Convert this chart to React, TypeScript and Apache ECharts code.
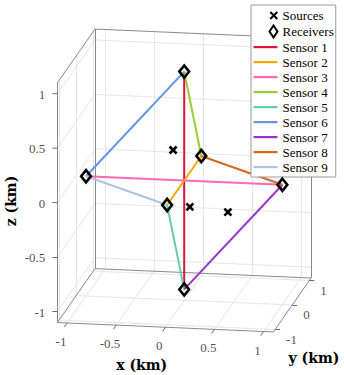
import React, { useEffect, useRef } from 'react';
import * as echarts from 'echarts';

// ---- axis ticks and limits (km)
const xTicks = [-1, -0.5, 0, 0.5, 1];
const yTicks = [-1, 0, 1];
const zTicks = [-1, -0.5, 0, 0.5, 1];
const xLim = [-1.1, 1.1];
const yLim = [-1.1, 1.1];
const zLim = [-1.1, 1.1];

// ---- receivers (km)
const receiverX = [0, 0, -1, 1, 0, 0];
const receiverY = [0, 0, 0, 0, -1, 1];
const receiverZ = [1, -1, 0, 0, 0, 0];

// ---- sources (km)
const sourceX = [-0.2, 0.11, 0.41];
const sourceY = [0.5, -0.3, 0.2];
const sourceZ = [0.16, -0.17, -0.32];

// ---- sensors: receiver index pairs
const sensorNames = ['Sensor 1', 'Sensor 2', 'Sensor 3', 'Sensor 4', 'Sensor 5', 'Sensor 6', 'Sensor 7', 'Sensor 8', 'Sensor 9'];
const sensorFrom = [0, 4, 2, 0, 4, 2, 1, 5, 2];
const sensorTo = [1, 5, 3, 5, 1, 0, 3, 3, 4];

const sensorColors = ['#dc143c', '#ffa500', '#ff69b4', '#9acd32', '#66cdaa', '#6495ed', '#9932cc', '#d2691e', '#b0c4de'];

// ---- view (orthographic camera): screen vectors per km
const VIEW = { cx: 184.2, cy: 180.5, ex: [98.2, 4.27], ey: [17.1, -24.5], ez: [0, -108.9] };
function project(x: number, y: number, z: number): number[] {
  return [
    VIEW.cx + x * VIEW.ex[0] + y * VIEW.ey[0] + z * VIEW.ez[0],
    VIEW.cy + x * VIEW.ex[1] + y * VIEW.ey[1] + z * VIEW.ez[1],
  ];
}
function unit(v: number[], s: number): number[] {
  const l = Math.hypot(v[0], v[1]);
  return [(v[0] / l) * s, (v[1] / l) * s];
}

const W = 344;
const H = 375;
const SERIF = 'Liberation Serif, serif';
const TITLE_FONT = 'DejaVu Serif, serif';

function seg(a: number[], b: number[]) {
  return { coords: [project(a[0], a[1], a[2]), project(b[0], b[1], b[2])] };
}

function buildOption() {
  const [x0, x1] = xLim;
  const [y0, y1] = yLim;
  const [z0, z1] = zLim;

  const gridSegs: any[] = [];
  xTicks.forEach((t) => {
    gridSegs.push(seg([t, y1, z0], [t, y1, z1]));
    gridSegs.push(seg([t, y0, z0], [t, y1, z0]));
  });
  zTicks.forEach((t) => {
    gridSegs.push(seg([x0, y1, t], [x1, y1, t]));
    gridSegs.push(seg([x0, y0, t], [x0, y1, t]));
  });
  yTicks.forEach((t) => {
    gridSegs.push(seg([x0, t, z0], [x0, t, z1]));
    gridSegs.push(seg([x0, t, z0], [x1, t, z0]));
  });

  const boxSegs = [
    seg([x0, y0, z0], [x1, y0, z0]),
    seg([x1, y0, z0], [x1, y1, z0]),
    seg([x0, y0, z0], [x0, y0, z1]),
    seg([x0, y0, z0], [x0, y1, z0]),
    seg([x0, y0, z1], [x0, y1, z1]),
    seg([x0, y1, z0], [x0, y1, z1]),
    seg([x0, y1, z1], [x1, y1, z1]),
    seg([x0, y1, z0], [x1, y1, z0]),
    seg([x1, y1, z0], [x1, y1, z1]),
  ];

  const tickLen = 5;
  const dxTick = unit([-VIEW.ey[0], -VIEW.ey[1]], tickLen);
  const dzTick = unit([-VIEW.ex[0], -VIEW.ex[1]], tickLen);
  const dyTick = unit([VIEW.ex[0], VIEW.ex[1]], tickLen);
  const tickSegs: any[] = [];
  xTicks.forEach((t) => {
    const p = project(t, y0, z0);
    tickSegs.push({ coords: [p, [p[0] + dxTick[0], p[1] + dxTick[1]]] });
  });
  yTicks.forEach((t) => {
    const p = project(x1, t, z0);
    tickSegs.push({ coords: [p, [p[0] + dyTick[0], p[1] + dyTick[1]]] });
  });
  zTicks.forEach((t) => {
    const p = project(x0, y0, t);
    tickSegs.push({ coords: [p, [p[0] + dzTick[0], p[1] + dzTick[1]]] });
  });

  const fmt = (v: number) => String(v);
  const xLabelData = xTicks.map((t) => ({ value: project(t, y0, z0), name: fmt(t) }));
  const yLabelData = yTicks.map((t) => ({ value: project(x1, t, z0), name: fmt(t) }));
  const zLabelData = zTicks.map((t) => ({ value: project(x0, y0, t), name: fmt(t) }));

  const tickLabelSeries = (name: string, data: any[], align: string, offset: number[]) => ({
    type: 'scatter',
    name,
    data,
    symbolSize: 1,
    itemStyle: { color: 'rgba(0,0,0,0)' },
    silent: true,
    z: 6,
    label: {
      show: true,
      position: 'inside',
      formatter: '{b}',
      align,
      verticalAlign: 'middle',
      offset,
      fontFamily: SERIF,
      fontSize: 13,
      color: '#1a1a1a',
    },
  });

  const receiverPts = receiverX.map((_, i) => project(receiverX[i], receiverY[i], receiverZ[i]));
  const sourcePts = sourceX.map((_, i) => project(sourceX[i], sourceY[i], sourceZ[i]));

  const sensorSeries = sensorNames.map((name, i) => ({
    type: 'line',
    name,
    data: [receiverPts[sensorFrom[i]], receiverPts[sensorTo[i]]],
    symbol: 'none',
    showSymbol: false,
    lineStyle: { color: sensorColors[i], width: 2 },
    itemStyle: { color: sensorColors[i] },
    z: 3,
    silent: true,
  }));

  const crossIcon = 'path://M0,0L0,0M0,14L0,14M16.5,3.5L23.5,10.5M23.5,3.5L16.5,10.5';
  const diamondIcon = 'path://M0,0L0,0M0,14L0,14M20,1L24,7L20,13L16,7Z';
  const barIcon = 'path://M0,0L0,0M0,14L0,14M0,6L24,6L24,8.2L0,8.2Z';

  return {
    animation: false,
    grid: { left: 0, right: 0, top: 0, bottom: 0 },
    xAxis: { type: 'value', min: 0, max: W, show: false },
    yAxis: { type: 'value', min: 0, max: H, inverse: true, show: false },
    legend: {
      orient: 'vertical',
      left: 251,
      top: 5,
      padding: [2.5, 2, 2.5, 1.5],
      itemGap: 0,
      itemWidth: 24,
      itemHeight: 14,
      selectedMode: false,
      backgroundColor: '#ffffff',
      borderColor: '#9a9a9a',
      borderWidth: 1,
      borderRadius: 0,
      textStyle: { fontFamily: SERIF, fontSize: 13, color: '#000', lineHeight: 15 },
      data: [
        { name: 'Sources', icon: crossIcon, itemStyle: { opacity: 1 } },
        { name: 'Receivers', icon: diamondIcon, itemStyle: { opacity: 1 } },
        ...sensorNames.map((n, i) => ({
          name: n,
          icon: barIcon,
          itemStyle: { color: sensorColors[i], borderWidth: 0 },
        })),
      ],
    },
    graphic: [
      {
        type: 'text', x: 141.7, y: 364.5, z: 10,
        style: { text: 'x (km)', fontFamily: TITLE_FONT, fontWeight: 'bold', fontSize: 14, fill: '#000', align: 'center', verticalAlign: 'middle' },
      },
      {
        type: 'text', x: 314, y: 358, z: 10,
        style: { text: 'y (km)', fontFamily: TITLE_FONT, fontWeight: 'bold', fontSize: 14, fill: '#000', align: 'center', verticalAlign: 'middle' },
      },
      {
        type: 'text', x: 11, y: 201, rotation: Math.PI / 2, z: 10,
        style: { text: 'z (km)', fontFamily: TITLE_FONT, fontWeight: 'bold', fontSize: 14, fill: '#000', align: 'center', verticalAlign: 'middle' },
      },
    ],
    series: [
      {
        type: 'lines', name: 'grid', coordinateSystem: 'cartesian2d', data: gridSegs, silent: true, z: 1,
        lineStyle: { color: '#e6e6e6', width: 1, opacity: 1 },
      },
      {
        type: 'lines', name: 'box', coordinateSystem: 'cartesian2d', data: boxSegs, silent: true, z: 2,
        lineStyle: { color: '#8a8a8a', width: 1, opacity: 1 },
      },
      {
        type: 'lines', name: 'ticks', coordinateSystem: 'cartesian2d', data: tickSegs, silent: true, z: 2,
        lineStyle: { color: '#6a6a6a', width: 1, opacity: 1 },
      },
      tickLabelSeries('xlabels', xLabelData, 'center', [-6.2, 18.5]),
      tickLabelSeries('ylabels', yLabelData, 'left', [11, 10]),
      tickLabelSeries('zlabels', zLabelData, 'right', [-12, 0.5]),
      ...sensorSeries,
      {
        type: 'scatter',
        name: 'Receivers',
        data: receiverPts,
        symbol: 'diamond',
        symbolSize: [9.8, 12.2],
        itemStyle: { color: 'rgba(255,255,255,0)', borderColor: '#000', borderWidth: 2.6, opacity: 1 },
        z: 4,
        silent: true,
      },
      {
        type: 'scatter',
        name: 'Sources',
        data: sourcePts,
        symbol: 'path://M0,0L10,10M10,0L0,10',
        symbolSize: 7,
        itemStyle: { color: '#000', borderColor: '#000', borderWidth: 2.6, opacity: 1 },
        z: 5,
        silent: true,
      },
    ],
  };
}

export default function App() {
  const ref = useRef<HTMLDivElement>(null);
  useEffect(() => {
    if (!ref.current) return;
    const chart = echarts.init(ref.current, undefined, { renderer: 'svg' });
    chart.setOption(buildOption() as any);
    return () => chart.dispose();
  }, []);
  return <div ref={ref} style={{ position: 'fixed', left: 0, top: 0, width: W, height: H, background: '#fff' }} />;
}
